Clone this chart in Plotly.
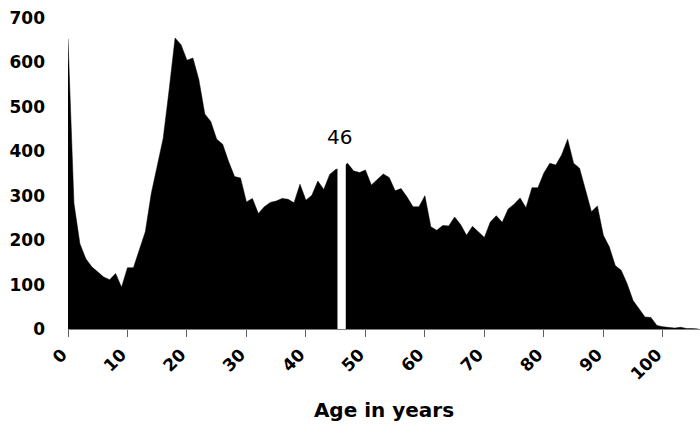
import plotly.graph_objects as go

# ---- data ----
ages = list(range(0, 107))
counts = [
    653, 283, 192, 158, 140, 128, 117, 111, 125, 94,
    138, 138, 179, 219, 305, 365, 429, 538, 655, 640,
    605, 610, 561, 484, 467, 427, 416, 377, 343, 340,
    286, 294, 260, 275, 285, 288, 294, 292, 284, 326,
    290, 301, 333, 314, 348, 359, 363, 373, 356, 352,
    358, 324, 337, 349, 341, 311, 316, 297, 275, 275,
    300, 230, 222, 233, 232, 252, 235, 211, 231, 219,
    206, 241, 255, 240, 270, 281, 295, 273, 318, 318,
    351, 373, 369, 392, 427, 373, 362, 313, 264, 277,
    211, 185, 143, 132, 102, 64, 46, 27, 26, 8,
    5, 4, 2, 4, 1, 1, 0,
]
highlight_age = 46
highlight_label = "46"
x_tick_values = list(range(0, 101, 10))
y_tick_values = list(range(0, 701, 100))
x_title = "Age in years"

y_max = 700
x_max = 106.25
gap_half = 0.7

fig = go.Figure()

fig.add_trace(go.Scatter(
    x=ages, y=counts, mode="lines", fill="tozeroy",
    line=dict(color="black", width=0.5), fillcolor="black",
    hoverinfo="skip", showlegend=False,
))

# white gap marking the highlighted age (drawn over the area)
gx0 = highlight_age - gap_half
gx1 = highlight_age + gap_half
fig.add_trace(go.Scatter(
    x=[gx0, gx1, gx1, gx0, gx0], y=[0, 0, y_max, y_max, 0],
    mode="lines", fill="toself", fillcolor="white",
    line=dict(color="white", width=0),
    hoverinfo="skip", showlegend=False,
))

fig.add_annotation(
    x=highlight_age - 0.3, y=counts[ages.index(highlight_age)],
    text=highlight_label, showarrow=False,
    yanchor="bottom", yshift=17,
    font=dict(family="DejaVu Sans", size=20, color="black"),
)

fig.update_layout(
    width=700, height=425,
    margin=dict(l=68, r=0, t=18, b=96),
    paper_bgcolor="white", plot_bgcolor="white",
    xaxis=dict(
        range=[0, x_max], tickmode="array", tickvals=x_tick_values,
        ticktext=[str(v) for v in x_tick_values],
        tickangle=-45, showgrid=False, zeroline=False, automargin=False,
        showline=True, linecolor="#808080", linewidth=1,
        ticks="outside", ticklen=7, tickcolor="#606060",
        ticklabelstandoff=1, ticklabelshift=-6,
        tickfont=dict(family="DejaVu Sans", size=17, color="black", weight="bold"),
        title=dict(text=x_title, standoff=20,
                   font=dict(family="DejaVu Sans", size=20, color="black", weight="bold")),
    ),
    yaxis=dict(
        range=[0, y_max], tickmode="array", tickvals=y_tick_values,
        showgrid=False, zeroline=False, showline=False, ticks="",
        automargin=False, ticklabelstandoff=22,
        tickfont=dict(family="DejaVu Sans", size=17, color="black", weight="bold"),
    ),
)

fig.write_html(
    "out.html",
    config={"displayModeBar": False},
    post_script="document.body.style.margin='0';document.body.style.overflow='hidden';",
)
